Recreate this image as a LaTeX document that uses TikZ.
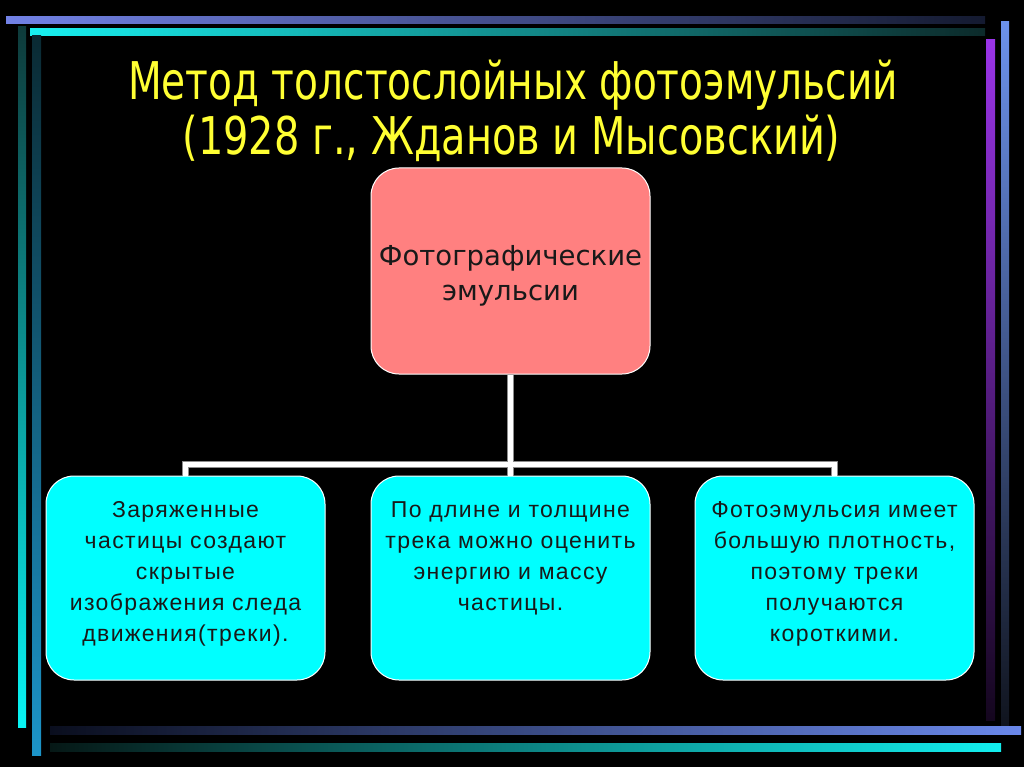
\documentclass[tikz,border=0pt]{standalone}
\usepackage{fontspec}
\setmainfont{Liberation Sans}
\newfontfamily\titlefont{DejaVu Sans}
\newfontfamily\dvsfont{DejaVu Sans}
\newfontfamily\leaffont[LetterSpace=6]{Liberation Sans}
\usepackage{graphicx}
\definecolor{titleyellow}{RGB}{255,255,51}
\definecolor{rootpink}{RGB}{255,128,128}
\definecolor{leafcyan}{RGB}{0,255,255}
\definecolor{lnA}{RGB}{114,130,230}
\definecolor{lnAd}{RGB}{20,26,48}
\definecolor{lnB}{RGB}{24,240,240}
\definecolor{lnBd}{RGB}{12,42,42}
\definecolor{lvA}{RGB}{8,244,244}
\definecolor{lvAd}{RGB}{14,58,58}
\definecolor{lvB}{RGB}{28,148,200}
\definecolor{lvBd}{RGB}{10,42,51}
\definecolor{bA}{RGB}{106,136,234}
\definecolor{bAd}{RGB}{10,14,30}
\definecolor{bB}{RGB}{18,238,238}
\definecolor{bBd}{RGB}{6,24,22}
\definecolor{rvA}{RGB}{154,52,232}
\definecolor{rvAd}{RGB}{20,6,30}
\definecolor{rvB}{RGB}{108,146,236}
\definecolor{rvBd}{RGB}{16,20,30}
\begin{document}
\begin{tikzpicture}[x=1pt,y=-1pt,
  box/.style={rounded corners=28pt, draw=white, line width=1pt, inner sep=0pt, minimum width=279pt},
  leaf/.style={box, fill=leafcyan, text=black!90, font=\leaffont\fontsize{23}{31}\selectfont},
  rootbox/.style={box, fill=rootpink, text=black!90, minimum height=206pt, font=\dvsfont\fontsize{27.5}{34.5}\selectfont},
  title/.style={text=titleyellow, font=\titlefont\fontsize{52}{60}\selectfont, inner sep=0pt, anchor=base},
  connout/.style={line width=7pt, draw=black!45},
  connin/.style={line width=5pt, draw=white}]
\useasboundingbox (0,0) rectangle (1024,767);
\fill[black] (0,0) rectangle (1024,767);
% frame lines
\shade[left color=lnA, right color=lnAd] (6,17) rectangle (985,24);
\shade[left color=lnB, right color=lnBd] (30,29) rectangle (985,36);
\shade[top color=lvAd, bottom color=lvA] (18,27) rectangle (26,727);
\shade[top color=lvBd, bottom color=lvB] (32,36) rectangle (41,755);
\shade[left color=bAd, right color=bA] (50,726) rectangle (1021,734);
\shade[left color=bBd, right color=bB] (50,743) rectangle (1001,751);
\shade[top color=rvA, bottom color=rvAd] (986,40) rectangle (995,720);
\shade[top color=rvB, bottom color=rvBd] (1001,22) rectangle (1009,725);
% title
\node[title] (t1) at (513,100) {\resizebox{770pt}{\height}{Метод толстослойных фотоэмульсий}};
\node[title] (t2) at (511.5,155) {\resizebox{658pt}{\height}{(1928 г., Жданов и Мысовский)}};
% boxes
\node[rootbox] (root) at (510.5,271) {\parbox[c][206pt][c]{275pt}{\centering\vspace*{10pt}Фотографические\\эмульсии}};
\node[leaf] (c1) at (185.5,578) {\parbox[c][204pt][t]{277pt}{\centering\vspace*{20pt}\strut Заряженные\\частицы создают\\скрытые\\изображения следа\\движения(треки).}};
\node[leaf] (c2) at (510.5,578) {\parbox[c][204pt][t]{277pt}{\centering\vspace*{20pt}\strut По длине и толщине\\трека можно оценить\\энергию и массу\\частицы.}};
\node[leaf] (c3) at (834.5,578) {\parbox[c][204pt][t]{277pt}{\centering\vspace*{20pt}\strut Фотоэмульсия имеет\\большую плотность,\\поэтому треки\\получаются\\короткими.}};
% connectors
\coordinate (j) at (510.5,464);
\draw[connout] (root.south) -- (j);
\draw[connout] (c1.north) |- (j) -| (c3.north);
\draw[connout] (j) -- (c2.north);
\draw[connin] (root.south) -- (j);
\draw[connin] (c1.north) |- (j) -| (c3.north);
\draw[connin] (j) -- (c2.north);
\end{tikzpicture}
\end{document}
